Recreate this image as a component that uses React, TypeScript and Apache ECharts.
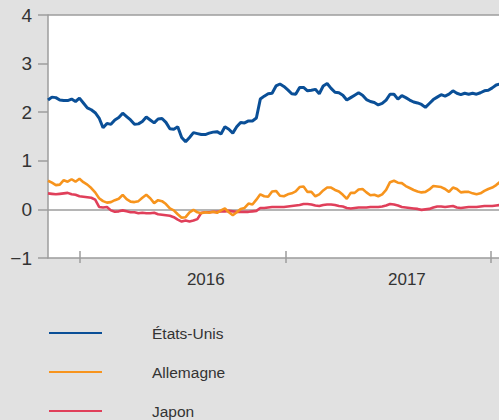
import React, { useEffect, useRef } from "react";
import * as echarts from "echarts";

// Weekly observations starting on this date (10-year government bond yields, %)
const START_DATE = "2015-11-05";
const STEP_DAYS = 7;
const AXIS_MIN_DATE = "2015-11-05";
const AXIS_MAX_DATE = "2018-01-16";

const seriesNames = ["États-Unis", "Allemagne", "Japon"];
const seriesColors = ["#0a4f97", "#f7941d", "#e03f5a"];

const usa = [
  2.25, 2.31, 2.30, 2.25, 2.24, 2.24, 2.27, 2.22, 2.29, 2.19,
  2.09, 2.05, 1.99, 1.88, 1.68, 1.77, 1.75, 1.84, 1.89, 1.98,
  1.91, 1.84, 1.75, 1.76, 1.81, 1.90, 1.84, 1.78, 1.86, 1.87,
  1.79, 1.66, 1.65, 1.70, 1.48, 1.39, 1.48, 1.58, 1.56, 1.54,
  1.54, 1.57, 1.59, 1.60, 1.55, 1.70, 1.65, 1.57, 1.70, 1.79,
  1.78, 1.82, 1.82, 1.88, 2.27, 2.33, 2.38, 2.39, 2.54, 2.58,
  2.53, 2.46, 2.38, 2.37, 2.51, 2.51, 2.44, 2.45, 2.47, 2.38,
  2.54, 2.59, 2.49, 2.41, 2.40, 2.35, 2.25, 2.30, 2.35, 2.40,
  2.35, 2.26, 2.22, 2.20, 2.15, 2.18, 2.25, 2.37, 2.37, 2.27,
  2.34, 2.30, 2.25, 2.21, 2.19, 2.16, 2.10, 2.18, 2.26, 2.31,
  2.36, 2.33, 2.37, 2.44, 2.39, 2.36, 2.39, 2.37, 2.39, 2.37,
  2.40, 2.44, 2.45, 2.50, 2.56, 2.58,
];

const germany = [
  0.59, 0.55, 0.50, 0.51, 0.60, 0.57, 0.62, 0.57, 0.63, 0.56,
  0.51, 0.44, 0.35, 0.23, 0.17, 0.14, 0.15, 0.19, 0.22, 0.30,
  0.21, 0.16, 0.15, 0.17, 0.24, 0.30, 0.23, 0.13, 0.19, 0.17,
  0.11, 0.02, -0.02, -0.10, -0.17, -0.16, -0.06, -0.01, -0.06, -0.08,
  -0.06, -0.07, -0.05, -0.07, -0.02, 0.02, -0.06, -0.12, -0.06, 0.01,
  0.03, 0.12, 0.10, 0.20, 0.31, 0.27, 0.26, 0.37, 0.38, 0.28,
  0.27, 0.31, 0.33, 0.37, 0.46, 0.47, 0.36, 0.36, 0.27, 0.31,
  0.39, 0.45, 0.45, 0.40, 0.37, 0.30, 0.22, 0.34, 0.34, 0.41,
  0.42, 0.35, 0.29, 0.30, 0.27, 0.31, 0.40, 0.56, 0.59, 0.55,
  0.54, 0.48, 0.44, 0.40, 0.37, 0.35, 0.36, 0.41, 0.48, 0.47,
  0.46, 0.42, 0.36, 0.45, 0.42, 0.35, 0.36, 0.36, 0.33, 0.31,
  0.33, 0.38, 0.42, 0.45, 0.50, 0.57,
];

const japan = [
  0.33, 0.32, 0.31, 0.32, 0.33, 0.34, 0.31, 0.30, 0.27, 0.26,
  0.25, 0.24, 0.20, 0.05, 0.04, 0.05, -0.02, -0.05, -0.04, -0.02,
  -0.04, -0.06, -0.06, -0.08, -0.07, -0.08, -0.08, -0.07, -0.10, -0.11,
  -0.12, -0.13, -0.16, -0.21, -0.25, -0.23, -0.25, -0.23, -0.20, -0.07,
  -0.06, -0.06, -0.05, -0.05, -0.04, -0.04, -0.03, -0.04, -0.05, -0.05,
  -0.05, -0.05, -0.04, -0.03, 0.03, 0.03, 0.04, 0.05, 0.05, 0.05,
  0.05, 0.06, 0.07, 0.08, 0.09, 0.11, 0.11, 0.10, 0.08, 0.07,
  0.09, 0.10, 0.10, 0.09, 0.07, 0.06, 0.03, 0.02, 0.03, 0.04,
  0.04, 0.04, 0.05, 0.05, 0.05, 0.06, 0.08, 0.11, 0.10, 0.08,
  0.05, 0.04, 0.03, 0.02, 0.01, -0.01, 0.00, 0.01, 0.04, 0.06,
  0.06, 0.05, 0.06, 0.07, 0.04, 0.03, 0.04, 0.05, 0.05, 0.05,
  0.06, 0.07, 0.07, 0.07, 0.08, 0.09,
];

const yearTickDates = ["2016-01-01", "2017-01-01", "2018-01-01"];
const yearLabelDates = ["2016-08-12", "2017-08-05"];
const yMin = -1;
const yMax = 4;
const yInterval = 1;

const toTs = (d: string) => Date.parse(d + "T00:00:00Z");

export default function App() {
  const ref = useRef<HTMLDivElement>(null);

  useEffect(() => {
    if (!ref.current) return;
    const chart = echarts.init(ref.current, null, { renderer: "svg" });
    const t0 = toTs(START_DATE);
    const day = 86400000;
    const mk = (vals: number[]) => vals.map((v, i) => [t0 + i * STEP_DAYS * day, v]);
    const allData = [usa, germany, japan];
    const widths = [3, 2.6, 2.6];
    const font = "'Liberation Sans', Arial, Helvetica, sans-serif";
    const gray = "#9c9c9c";
    const legendTops = [325, 364, 403];

    const xCommon = {
      type: "value" as const,
      min: toTs(AXIS_MIN_DATE),
      max: toTs(AXIS_MAX_DATE),
      splitLine: { show: false },
    };

    chart.setOption({
      animation: false,
      backgroundColor: "#e1e1e1",
      textStyle: { fontFamily: font },
      grid: {
        left: 48,
        top: 15,
        right: 0,
        bottom: 162,
        show: true,
        backgroundColor: "#ffffff",
        borderWidth: 0,
      },
      xAxis: [
        {
          ...xCommon,
          axisLine: { show: true, onZero: false, lineStyle: { color: gray, width: 1.5 } },
          axisTick: {
            show: true,
            length: 5,
            customValues: yearTickDates.map(toTs),
            lineStyle: { color: gray, width: 1.5 },
          },
          axisLabel: {
            show: true,
            customValues: yearLabelDates.map(toTs),
            formatter: (v: number) => String(new Date(v).getUTCFullYear()),
            color: "#333333",
            fontSize: 17,
            margin: 13,
            fontFamily: font,
          },
        },
        {
          ...xCommon,
          position: "bottom",
          axisLine: { show: false, onZero: false },
          axisTick: {
            show: true,
            inside: true,
            length: 7,
            customValues: yearTickDates.map(toTs),
            lineStyle: { color: gray, width: 1.5 },
          },
          axisLabel: { show: false },
        },
      ],
      yAxis: {
        type: "value",
        min: yMin,
        max: yMax,
        interval: yInterval,
        axisLine: { show: true, lineStyle: { color: gray, width: 1.5 } },
        axisTick: { show: true, length: 10, lineStyle: { color: gray, width: 1.5 } },
        axisLabel: {
          color: "#333333",
          fontSize: 19,
          margin: 16,
          fontFamily: font,
          formatter: (v: number) => (v < 0 ? "\u2212" + Math.abs(v) : String(v)),
        },
        splitLine: {
          show: true,
          lineStyle: {
            color: ["rgba(0,0,0,0)", gray, "rgba(0,0,0,0)", "rgba(0,0,0,0)", "rgba(0,0,0,0)", gray],
            width: 1.5,
          },
        },
      },
      legend: seriesNames.map((name, k) => ({
        orient: "vertical",
        left: 49,
        top: legendTops[k],
        padding: 0,
        itemWidth: 53,
        itemHeight: 14,
        icon: "path://M0,0 L53,0 L53,2 L0,2 Z",
        textStyle: {
          color: "#333333",
          fontSize: 15.5,
          lineHeight: 16,
          fontFamily: font,
          padding: [0, 0, 0, 45],
        },
        data: [name],
      })),
      series: seriesNames.map((name, k) => ({
        name,
        type: "line",
        xAxisIndex: 0,
        data: mk(allData[k]),
        symbol: "none",
        showSymbol: false,
        color: seriesColors[k],
        lineStyle: { color: seriesColors[k], width: widths[k] },
        z: 5 - k,
      })),
    });

    return () => chart.dispose();
  }, []);

  return (
    <div
      ref={ref}
      style={{ position: "fixed", left: 0, top: 0, width: 499, height: 420 }}
    />
  );
}
